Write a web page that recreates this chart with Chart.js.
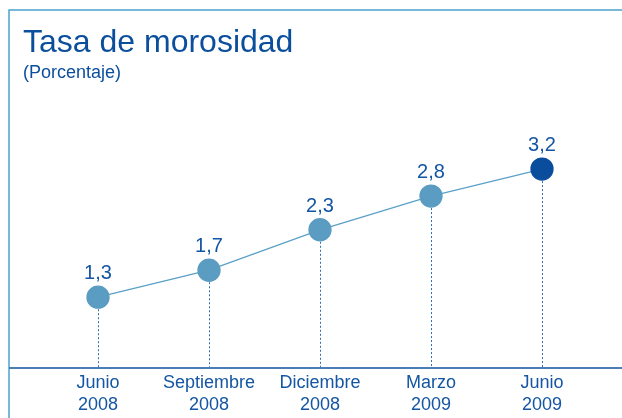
<!DOCTYPE html>
<html>
<head>
<meta charset="utf-8">
<script src="https://cdn.jsdelivr.net/npm/chart.js@4"></script>
<style>
  html, body { margin: 0; padding: 0; background: #fff; }
  #wrap { position: relative; width: 622px; height: 418px; overflow: hidden; }
  #chart { position: absolute; left: 0; top: 0; }
  .title { position: absolute; left: 23px; color: #0b4f9c; font-family: "Liberation Sans", Arial, sans-serif; white-space: nowrap; }
  #mainTitle { top: 25px; font-size: 32px; line-height: 32px; }
  #subTitle { top: 63px; font-size: 18px; line-height: 18px; }
</style>
</head>
<body>
<div id="wrap">
  <canvas id="chart" width="622" height="418"></canvas>
  <div class="title" id="mainTitle">Tasa de morosidad</div>
  <div class="title" id="subTitle">(Porcentaje)</div>
</div>
<script>
/* ===== DATA ===== */
const months = ["Junio", "Septiembre", "Diciembre", "Marzo", "Junio"];
const years = ["2008", "2008", "2008", "2009", "2009"];
const rates = [1.3, 1.7, 2.3, 2.8, 3.2];

/* ===== COLORS ===== */
const lightDot = "#5a9cc2";
const darkDot = "#0a4d9c";
const textBlue = "#1456a3";
const FONT = "'Liberation Sans', Arial, sans-serif";

const labels = months.map((m, i) => [m, years[i]]);
const dotColors = rates.map((_, i) => i === rates.length - 1 ? darkDot : lightDot);

// frame lines + axis line
const framePlugin = {
  id: "frame",
  beforeDraw(chart) {
    const ctx = chart.ctx;
    const axisY = chart.chartArea.bottom;
    ctx.save();
    ctx.strokeStyle = "#4aa2cd";
    ctx.lineWidth = 1.5;
    ctx.beginPath();
    ctx.moveTo(9, 418);
    ctx.lineTo(9, 10);
    ctx.lineTo(622, 10);
    ctx.stroke();

    ctx.strokeStyle = "#4a7db5";
    ctx.lineWidth = 2;
    ctx.beginPath();
    ctx.moveTo(9, axisY);
    ctx.lineTo(622, axisY);
    ctx.stroke();
    ctx.restore();
  },
  // dotted drop lines under the points
  beforeDatasetsDraw(chart) {
    const ctx = chart.ctx;
    const meta = chart.getDatasetMeta(0);
    ctx.save();
    ctx.strokeStyle = "#2f6db0";
    ctx.lineWidth = 1;
    ctx.setLineDash([2, 2]);
    meta.data.forEach(pt => {
      const x = Math.round(pt.x) + 0.5;
      ctx.beginPath();
      ctx.moveTo(x, pt.y);
      ctx.lineTo(x, chart.chartArea.bottom - 1);
      ctx.stroke();
    });
    ctx.restore();
  },
  // value labels
  afterDatasetsDraw(chart) {
    const ctx = chart.ctx;
    const meta = chart.getDatasetMeta(0);
    ctx.save();
    ctx.fillStyle = textBlue;
    ctx.font = "20px " + FONT;
    ctx.textAlign = "center";
    ctx.textBaseline = "alphabetic";
    meta.data.forEach((pt, i) => {
      const txt = rates[i].toFixed(1).replace(".", ",");
      ctx.fillText(txt, pt.x, pt.y - 18);
    });
    ctx.restore();
  }
};

new Chart(document.getElementById("chart"), {
  type: "line",
  data: {
    labels: labels,
    datasets: [{
      data: rates,
      borderColor: "#5aa0c8",
      borderWidth: 1.3,
      pointBackgroundColor: dotColors,
      pointBorderColor: dotColors,
      pointRadius: 11,
      pointHoverRadius: 11,
      tension: 0
    }]
  },
  options: {
    responsive: false,
    animation: false,
    events: [],
    layout: { padding: { left: 42.5, right: 24.5, top: 14, bottom: 0 } },
    plugins: { legend: { display: false }, tooltip: { enabled: false } },
    scales: {
      x: {
        offset: true,
        grid: { display: false, drawTicks: false },
        border: { display: false },
        afterFit: s => { s.height = 50; },
        ticks: {
          padding: 4,
          maxRotation: 0,
          autoSkip: false,
          color: textBlue,
          font: { family: FONT, size: 18, lineHeight: 1.22 }
        }
      },
      y: {
        display: false,
        min: 0.25,
        max: 5.5
      }
    }
  },
  plugins: [framePlugin]
});
</script>
</body>
</html>
